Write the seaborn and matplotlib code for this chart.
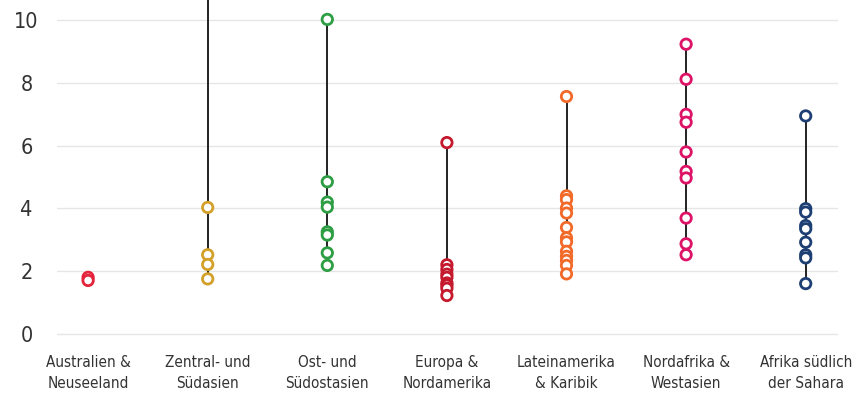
import pandas as pd
import matplotlib.pyplot as plt
import seaborn as sns

# Werte je Region
regions = [
    "Australien &\nNeuseeland",
    "Zentral- und\nSüdasien",
    "Ost- und\nSüdostasien",
    "Europa &\nNordamerika",
    "Lateinamerika\n& Karibik",
    "Nordafrika &\nWestasien",
    "Afrika südlich\nder Sahara",
]
australien = [1.8, 1.7]
zentral_sued = [12.5, 4.03, 2.52, 2.21, 1.75]
ost_suedost = [10.03, 4.85, 4.2, 4.04, 3.25, 3.15, 2.58, 2.18]
europa_na = [6.1, 2.2, 2.05, 1.9, 1.8, 1.62, 1.55, 1.45, 1.22]
latein = [7.57, 4.4, 4.28, 4.01, 3.85, 3.39, 3.06, 2.93, 2.63, 2.47, 2.34, 2.18, 1.91]
nordafrika = [9.24, 8.12, 7.0, 6.75, 5.8, 5.18, 4.97, 3.69, 2.87, 2.52]
afrika_sued = [6.95, 3.99, 3.88, 3.45, 3.35, 2.92, 2.52, 2.42, 1.6]

colors = ["#E5243B", "#D3A029", "#2E9E44", "#C5192D", "#F26A2A", "#DD1367", "#1D3F73"]

series = [australien, zentral_sued, ost_suedost, europa_na, latein, nordafrika, afrika_sued]
rows = []
for reg, vals in zip(regions, series):
    for v in vals:
        rows.append({"region": reg, "wert": v})
df = pd.DataFrame(rows)

sns.set_style("white")
plt.rcParams["font.family"] = ["DejaVu Sans"]
plt.rcParams["font.stretch"] = "condensed"

fig = plt.figure(figsize=(8.53, 3.98), dpi=100)
ax = fig.add_axes([57 / 853, 1 - 340 / 398, 781 / 853, 340 / 398])

# Spannweite je Region als Linie
span = df.groupby("region", sort=False)["wert"].agg(["min", "max"]).reindex(regions)
ax.vlines(range(len(regions)), span["min"], span["max"], color="#222222", lw=1.4, zorder=2)

sns.stripplot(
    data=df, x="region", y="wert", hue="region", order=regions, hue_order=regions,
    palette=colors, jitter=False, size=7.5, legend=False, ax=ax, zorder=3,
)
for coll in ax.collections:
    fc = coll.get_facecolors()
    if len(fc):
        coll.set_edgecolors(fc)
        coll.set_facecolors("white")
        coll.set_linewidth(2)

ax.set_ylim(-0.2, 10.65)
ax.set_xlim(-0.26, 6.27)
ax.set_yticks([0, 2, 4, 6, 8, 10])
ax.yaxis.grid(True, color="#e6e6e6", lw=1)
ax.set_axisbelow(True)
for s in ax.spines.values():
    s.set_visible(False)
ax.set_xlabel("")
ax.set_ylabel("")
ax.tick_params(axis="y", labelsize=15.5, colors="#333333", length=0, pad=22)
ax.tick_params(axis="x", labelsize=11, colors="#333333", length=0, pad=11)
for lab in ax.get_yticklabels():
    lab.set_horizontalalignment("center")
for lab in ax.get_xticklabels():
    lab.set_linespacing(1.45)

fig.savefig("out.png", dpi=100)
